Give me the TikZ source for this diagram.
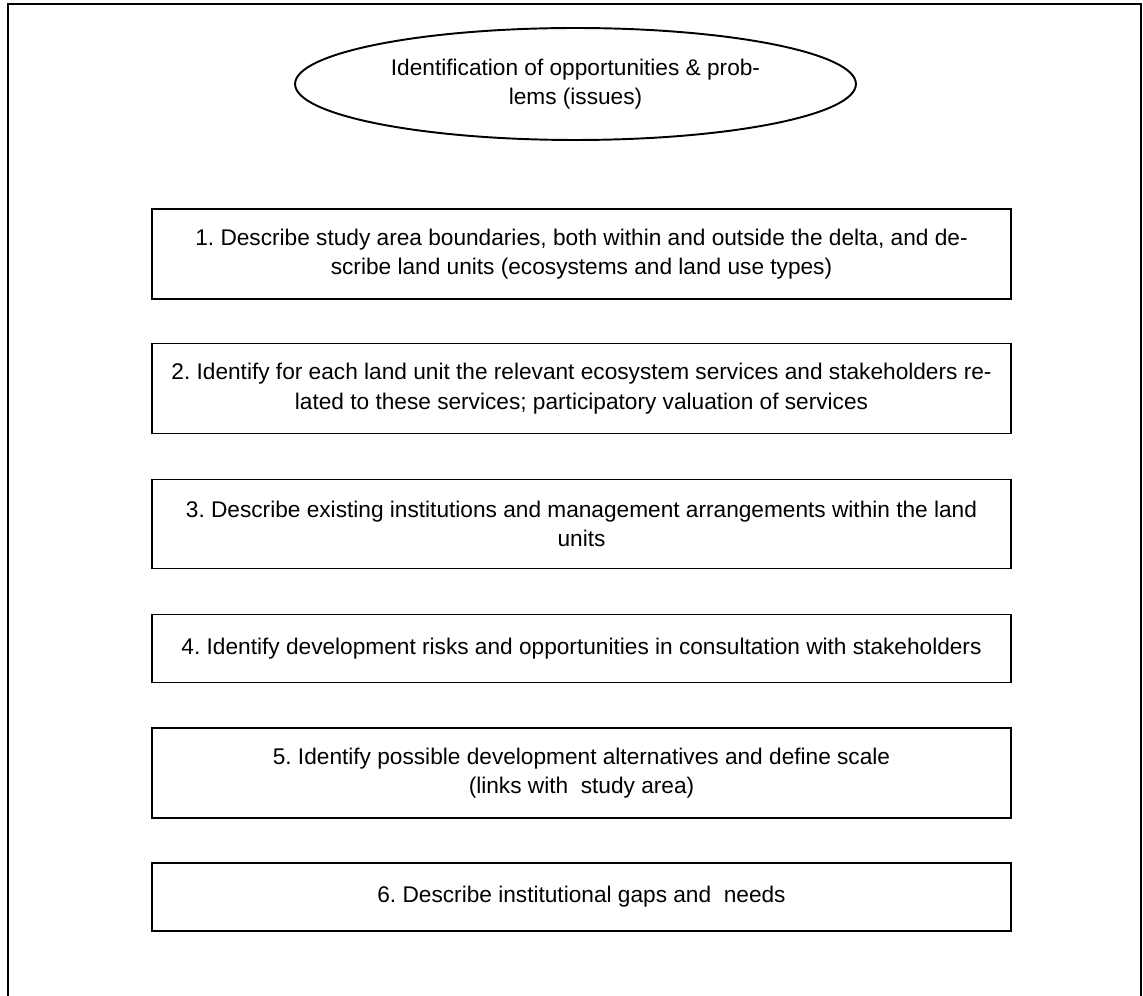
\documentclass[tikz,border=0pt]{standalone}
\usepackage{fontspec}
\setmainfont{Liberation Sans}
\usepackage{tikz}
\usetikzlibrary{shapes.geometric, positioning}
\frenchspacing
\tikzstyle{stepbox}=[draw, line width=1.1pt, shape=rectangle, align=center, inner sep=0pt, minimum width=17.18cm, font=\fontsize{12.9pt}{16.8pt}\selectfont]
\tikzstyle{issue}=[draw, line width=1.1pt, shape=ellipse, align=center, inner sep=0pt, minimum width=11.22cm, minimum height=2.24cm, font=\fontsize{12.9pt}{16.8pt}\selectfont]

\begin{document}
\begin{tikzpicture}[x=0.02cm, y=-0.02cm]
\useasboundingbox (0,0) rectangle (1143,996);
%frame, open at the bottom
\coordinate (F0) at (8,996);
\coordinate (F1) at (8,4);
\coordinate (F2) at (1141,4);
\coordinate (F3) at (1141,996);
\draw[line width=1.1pt] (F0) -- (F1) -- (F2) -- (F3);
\node[issue] (I) at (575.5,84) {Identification of opportunities \& prob-\\lems (issues)};
\node[stepbox, minimum height=1.8cm] (S1) at (581.5,254) {1. Describe study area boundaries, both within and outside the delta, and de-\\scribe land units (ecosystems and land use types)};
\node[stepbox, minimum height=1.8cm] (S2) at (581.5,388.5) {2. Identify for each land unit the relevant ecosystem services and stakeholders re-\\lated to these services; participatory valuation of services};
\node[stepbox, minimum height=1.78cm] (S3) at (581.5,524) {3. Describe existing institutions and management arrangements within the land\\units};
\node[stepbox, minimum height=1.36cm] (S4) at (581.5,648.5) {4. Identify development risks and opportunities in consultation with stakeholders};
\node[stepbox, minimum height=1.8cm] (S5) at (581.5,773) {5. Identify possible development alternatives and define scale\\(links with\ \ study area)};
\node[stepbox, minimum height=1.36cm] (S6) at (581.5,897) {6. Describe institutional gaps and\ \ needs};
\end{tikzpicture}
\end{document}
